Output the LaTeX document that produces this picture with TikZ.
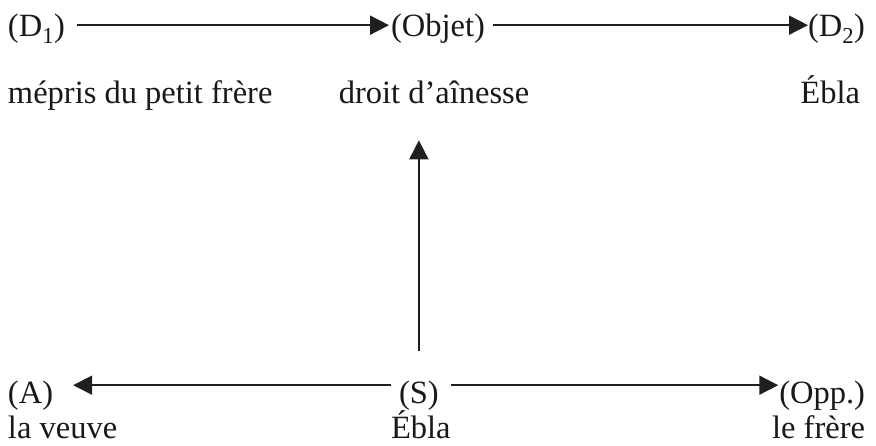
\documentclass[tikz,border=0pt]{standalone}
\usepackage{fontspec}
\setmainfont{Liberation Serif}
\usetikzlibrary{arrows.meta}
\tikzset{
  lbl/.style={inner sep=0pt, outer sep=0pt, font=\fontsize{32.5}{38}\selectfont, text=black!90},
  arr/.style={line width=1.8pt, draw=black!88, -{Triangle[length=19pt,width=19pt]}}
}
\begin{document}
\begin{tikzpicture}[x=1pt,y=-1pt]
\useasboundingbox (0,0) rectangle (876,446);
% top row
\node[lbl, anchor=base west] (D1) at (8,37) {(D\textsubscript{1})};
\node[lbl, anchor=base west] (Obj) at (391,37) {(Objet)};
\node[lbl, anchor=base east] (D2) at (865,37) {(D\textsubscript{2})};
% second row
\node[lbl, anchor=base west] (mep) at (8,104) {mépris du petit frère};
\node[lbl, anchor=base] (droit) at (434,104) {droit d’aînesse};
\node[lbl, anchor=base east] (ebla1) at (860,104) {Ébla};
% bottom rows
\node[lbl, anchor=base west] (A) at (8,403) {(A)};
\node[lbl, anchor=base west] (S) at (399,403) {(S)};
\node[lbl, anchor=base east] (Opp) at (865,403) {(Opp.)};
\node[lbl, anchor=base west] (veuve) at (8,438) {la veuve};
\node[lbl, anchor=base west] (ebla2) at (391,438) {Ébla};
\node[lbl, anchor=base east] (frere) at (865,438) {le frère};
% connectors
\draw[arr] ([xshift=12pt,yshift=4pt]D1.east) -- ([xshift=-2pt,yshift=4pt]Obj.west);
\draw[arr] ([xshift=8pt,yshift=4pt]Obj.east) -- ([xshift=0pt,yshift=4pt]D2.west);
\draw[arr, shorten <=29pt, shorten >=36pt] (S.north) -- (S.north |- droit.south);
\draw[arr] ([xshift=-8pt,yshift=10pt]S.west) -- ([xshift=20pt,yshift=10pt]A.east);
\draw[arr] ([xshift=12pt,yshift=10pt]S.east) -- ([xshift=-1pt,yshift=10pt]Opp.west);
\end{tikzpicture}
\end{document}
